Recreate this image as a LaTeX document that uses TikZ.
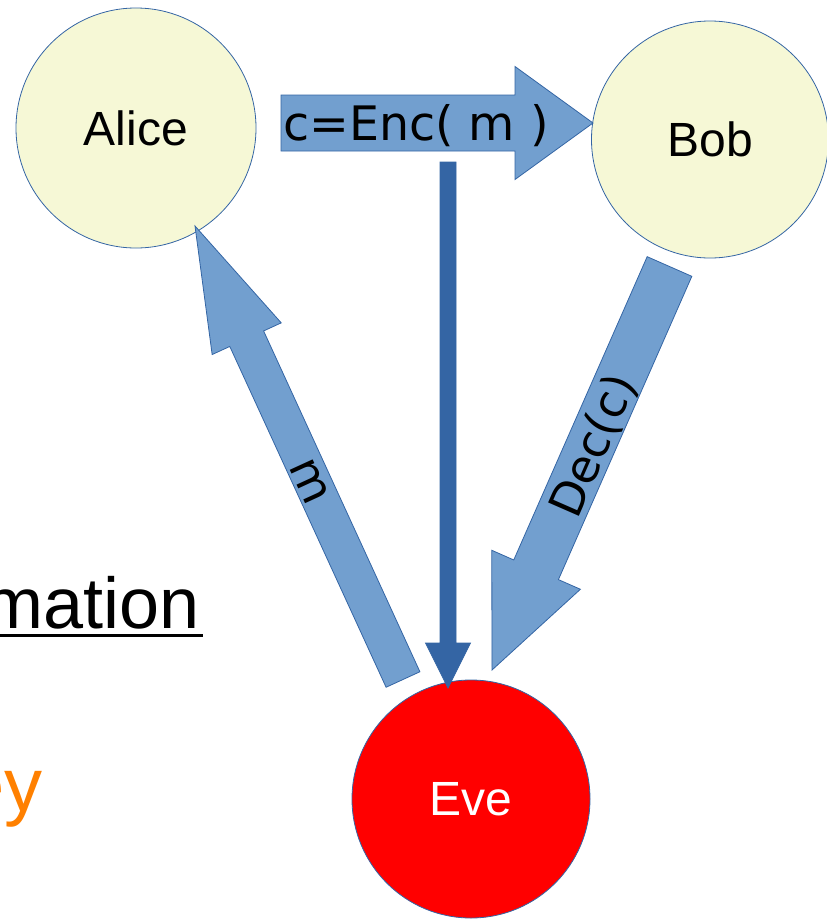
\documentclass[tikz,border=0pt]{standalone}
\usepackage{fontspec}
\setmainfont{Liberation Sans}
\newfontfamily\labelfont{DejaVu Sans}
\usetikzlibrary{calc}

\definecolor{discfill}{RGB}{246,248,214}
\definecolor{edgeblue}{RGB}{52,101,164}
\definecolor{flowblue}{RGB}{114,159,207}
\definecolor{tapblue}{RGB}{52,101,164}
\definecolor{evered}{RGB}{255,0,0}
\definecolor{keyorange}{RGB}{255,128,0}

% Block arrow from tail #2 to tip #3:
% #4 half shaft width, #5 half head width, #6 head length
\newcommand\blockarrow[6][]{%
  \coordinate (ba-base) at ($(#3)!#6!(#2)$);
  \draw[#1]
    ($(#2)!#4!90:(#3)$) -- ($(ba-base)!#4!90:(#3)$) --
    ($(ba-base)!#5!90:(#3)$) -- (#3) --
    ($(ba-base)!#5!-90:(#3)$) -- ($(ba-base)!#4!-90:(#3)$) --
    ($(#2)!#4!-90:(#3)$) -- cycle;
}

\tikzset{
  party/.style={circle, draw=edgeblue, line width=0.8pt, fill=discfill,
    inner sep=0pt, font=\fontsize{48}{56}\selectfont},
  flow/.style={draw=edgeblue, line width=0.8pt, fill=flowblue, line join=miter},
  tap/.style={draw=tapblue, line width=0.8pt, fill=tapblue, line join=miter},
  lbl/.style={inner sep=0pt, font=\labelfont\fontsize{46}{54}\selectfont},
}

\begin{document}
\begin{tikzpicture}[x=1pt, y=-1pt]
\useasboundingbox (0,0) rectangle (827,921);

% parties
\node[party, minimum size=240pt] (alice) at (136,128) {Alice};
\node[party, minimum size=237pt] (bob) at (710,139.5) {Bob};
\node[party, minimum size=238pt, fill=evered, text=white] (eve) at (471,799) {Eve};

% arrow end points
\coordinate (enc-tail) at (281,123);
\coordinate (enc-tip) at (593,123);
\coordinate (tap-tail) at (448,162);
\coordinate (tap-tip) at (448,688);
\coordinate (m-tail) at (403,679.5);
\coordinate (m-tip) at (195,226);
\coordinate (dec-tail) at (669.5,266.5);
\coordinate (dec-tip) at (492,670);

% block arrows
\blockarrow[flow]{enc-tail}{enc-tip}{28pt}{56.5pt}{78pt}
\blockarrow[tap]{tap-tail}{tap-tip}{8pt}{22.5pt}{45pt}
\blockarrow[flow]{m-tail}{m-tip}{18.6pt}{38pt}{124pt}
\blockarrow[flow]{dec-tail}{dec-tip}{24.4pt}{48.4pt}{109.5pt}

% arrow labels
\node[lbl, anchor=base, font=\labelfont\fontsize{47.5}{54}\selectfont] (enc-label) at (416,140) {c=Enc( m )};
\node[lbl, rotate=-65.4] (m-label) at (310,482) {m};
\node[lbl, rotate=66.4] (dec-label) at (594,446) {Dec(c)};

% slide text running in from the left
\node[anchor=base east, inner sep=0pt, font=\fontsize{72}{80}\selectfont] (info) at (200,628) {mation};
\draw[line width=3pt] (0,635.5) -- (203,635.5);
\node[anchor=base east, inner sep=0pt, text=keyorange, font=\fontsize{76}{84}\selectfont] (key) at (43,811) {ey};
\end{tikzpicture}
\end{document}
